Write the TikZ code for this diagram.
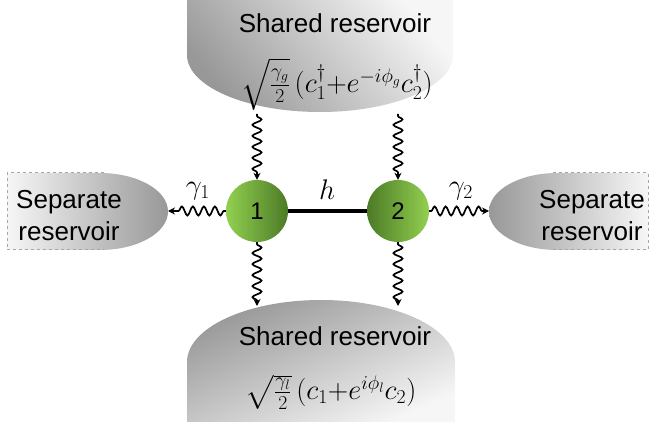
\documentclass[tikz,border=0pt]{standalone}
\usepackage{amsmath}
\usepackage{graphicx}
\usepackage[no-math]{fontspec}
\setsansfont{Liberation Sans}
\usetikzlibrary{decorations.pathmorphing,arrows.meta}
\definecolor{greenlight}{HTML}{92D050}
\definecolor{greendark}{HTML}{4C7A26}
\definecolor{resdark}{HTML}{989898}
\definecolor{reslight}{HTML}{F6F6F6}
\definecolor{dashgray}{HTML}{A6A6A6}
% math set large: the math fonts stop at 24.88pt, so scale beyond that
\newcommand{\bigmath}[1]{\scalebox{1.14}{$#1$}}

\begin{document}
\begin{tikzpicture}[x=1pt,y=1pt,
  lbl/.style={font=\sffamily\fontsize{26}{32}\selectfont, align=center, inner sep=0pt},
  mathlbl/.style={font=\fontsize{24}{28}\selectfont, inner sep=0pt},
  site/.style={circle, minimum size=62pt, inner sep=0pt, font=\sffamily\fontsize{24}{28}\selectfont},
  wave/.style={decorate, decoration={snake, amplitude=4.5pt, segment length=11pt, pre length=2pt, post length=5pt},
    line width=1.7pt, -{Stealth[length=7pt,width=7pt]}},
  hop/.style={line width=3.2pt},
  sepedge/.style={draw=dashgray, dashed, line width=1pt}
]
\useasboundingbox (0,0) rectangle (654,-422);

% shared reservoir above the two sites
\shade[top color=reslight, bottom color=resdark, shading angle=-50]
  (187,2) -- (187,-55) arc[start angle=180, end angle=360, x radius=133, y radius=57] -- (453,2) -- cycle;
% shared reservoir below the two sites
\shade[top color=resdark, bottom color=reslight, shading angle=25]
  (187,-424) -- (187,-362) arc[start angle=180, end angle=0, x radius=134, y radius=62] -- (455,-424) -- cycle;
% separate reservoir, left
\shade[left color=reslight, right color=resdark]
  (7,-173) -- (100,-173) arc[start angle=90, end angle=-90, x radius=68, y radius=38.5] -- (7,-250) -- cycle;
\draw[sepedge] (104,-173) -- (7,-173) -- (7,-250) -- (104,-250);
% separate reservoir, right
\shade[left color=resdark, right color=reslight]
  (648,-173) -- (557,-173) arc[start angle=90, end angle=270, x radius=68, y radius=38.5] -- (648,-250) -- cycle;
\draw[sepedge] (553,-173) -- (648,-173) -- (648,-250) -- (553,-250);

% reservoir texts
\node[lbl] (tt) at (335,-23) {Shared reservoir};
\node[mathlbl] (tf) at (337,-84) {\bigmath{\sqrt{\tfrac{\gamma_g}{2}}\,(c_1^{\dagger}{+}e^{-i\phi_g}c_2^{\dagger})}};
\node[lbl] (bt) at (335,-336) {Shared reservoir};
\node[mathlbl] (bf) at (331,-392) {\bigmath{\sqrt{\tfrac{\gamma_l}{2}}\,(c_1{+}e^{i\phi_l}c_2)}};
\node[lbl] (lt) at (69,-216) {Separate\\reservoir};
\node[lbl] (rt) at (592,-216) {Separate\\reservoir};

% the two sites
\node[site, left color=greenlight, right color=greendark] (s1) at (257,-211) {1};
\node[site, left color=greendark, right color=greenlight] (s2) at (398,-211) {2};

% coupling between the sites
\draw[hop] (s1) -- (s2);
\node[mathlbl] (hl) at (327,-190) {\bigmath{h}};

% attachment points on the reservoirs
\coordinate (ta1) at (257,-114);
\coordinate (ta2) at (398,-114);
\coordinate (ba1) at (257,-306);
\coordinate (ba2) at (398,-306);
\coordinate (la) at (168,-211);
\coordinate (ra) at (489,-211);

% dissipative channels
\draw[wave] (ta1) -- (s1.north);
\draw[wave] (ta2) -- (s2.north);
\draw[wave] (s1.south) -- (ba1);
\draw[wave] (s2.south) -- (ba2);
\draw[wave] (s1.west) -- (la);
\draw[wave] (s2.east) -- (ra);
\node[mathlbl] (g1) at (198,-191) {\bigmath{\gamma_1}};
\node[mathlbl] (g2) at (461,-191) {\bigmath{\gamma_2}};
\end{tikzpicture}
\end{document}
